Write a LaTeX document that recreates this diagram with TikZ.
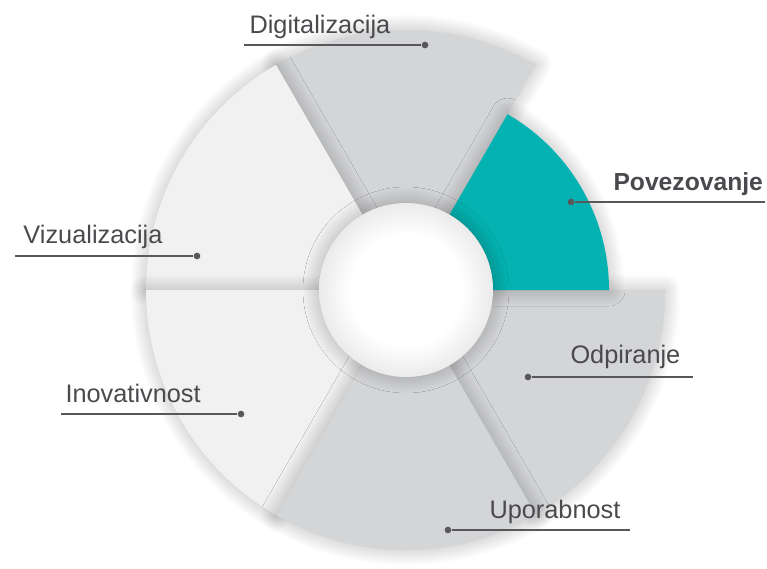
\documentclass[tikz,border=0pt]{standalone}
\usepackage{fontspec}
\setmainfont{Liberation Sans}
\usetikzlibrary{shadows.blur}

\definecolor{tealseg}{RGB}{4,178,177}
\definecolor{grayseg}{RGB}{212,213,215}
\definecolor{lightseg}{RGB}{241,241,241}
\definecolor{labeltext}{RGB}{74,74,78}
\definecolor{leader}{RGB}{88,88,90}

\pgfdeclareradialshading{holeshading}{\pgfpoint{0bp}{0bp}}{color(0bp)=(white); color(16bp)=(white); color(25bp)=(black!8); color(50bp)=(black!8)}

\tikzset{every picture/.style={line width=0.75pt}}
\tikzset{
  segshadow/.style={blur shadow={shadow xshift=0pt, shadow yshift=0pt, shadow blur radius=12pt, shadow opacity=28, shadow blur steps=24}},
  leaderline/.style={draw=leader, line width=1.5pt},
  leaderdot/.style={circle, fill=leader, inner sep=0pt, minimum size=5pt},
  segtext/.style={anchor=base west, inner sep=0.75pt, text=labeltext, font=\fontsize{19}{23}\selectfont},
}

\begin{document}
\begin{tikzpicture}[x=0.75pt,y=0.75pt,yscale=-1,xscale=1]
%set diagram area 767 x 568
\useasboundingbox (0,0) rectangle (767,568);
\coordinate (c) at (406,290);
%Shape: Ring segments (Digitalizacija, Vizualizacija, Inovativnost, Odpiranje, Uporabnost, Povezovanje)
\foreach \a/\b/\r/\col in {-60/-120/260/grayseg, -120/-180/260/lightseg, 180/120/260/lightseg, 60/0/259/grayseg, 120/60/260/grayseg, 0/-60/203/tealseg}{
  \fill[\col, segshadow] ([shift={(\a:87)}]c) -- ([shift={(\a:\r)}]c) arc[start angle=\a, end angle=\b, radius=\r] -- ([shift={(\b:87)}]c) arc[start angle=\b, end angle=\a, radius=87] -- cycle;
}
%Shape: Circle (hole)
\shade[shading=holeshading, segshadow] (c) circle[radius=87];

% Text Node
\node[segtext] (dig) at (248,33) {Digitalizacija};
\node[leaderdot] (dig-dot) at (425,45) {};
\coordinate (dig-end) at (244,45);
\draw[leaderline] (dig-end) -- (dig-dot);
% Text Node
\node[segtext, font=\fontsize{18.5}{23}\selectfont\bfseries] (pov) at (612,190) {Povezovanje};
\node[leaderdot] (pov-dot) at (571,202) {};
\coordinate (pov-end) at (765,202);
\draw[leaderline] (pov-dot) -- (pov-end);
% Text Node
\node[segtext] (viz) at (22,243) {Vizualizacija};
\node[leaderdot] (viz-dot) at (197,256) {};
\coordinate (viz-end) at (15,256);
\draw[leaderline] (viz-end) -- (viz-dot);
% Text Node
\node[segtext] (ino) at (64,402) {Inovativnost};
\node[leaderdot] (ino-dot) at (241,414) {};
\coordinate (ino-end) at (61,414);
\draw[leaderline] (ino-end) -- (ino-dot);
% Text Node
\node[segtext] (odp) at (569,363) {Odpiranje};
\node[leaderdot] (odp-dot) at (528,377) {};
\coordinate (odp-end) at (693,377);
\draw[leaderline] (odp-dot) -- (odp-end);
% Text Node
\node[segtext] (upo) at (488,518) {Uporabnost};
\node[leaderdot] (upo-dot) at (448,530) {};
\coordinate (upo-end) at (630,530);
\draw[leaderline] (upo-dot) -- (upo-end);
\end{tikzpicture}
\end{document}
